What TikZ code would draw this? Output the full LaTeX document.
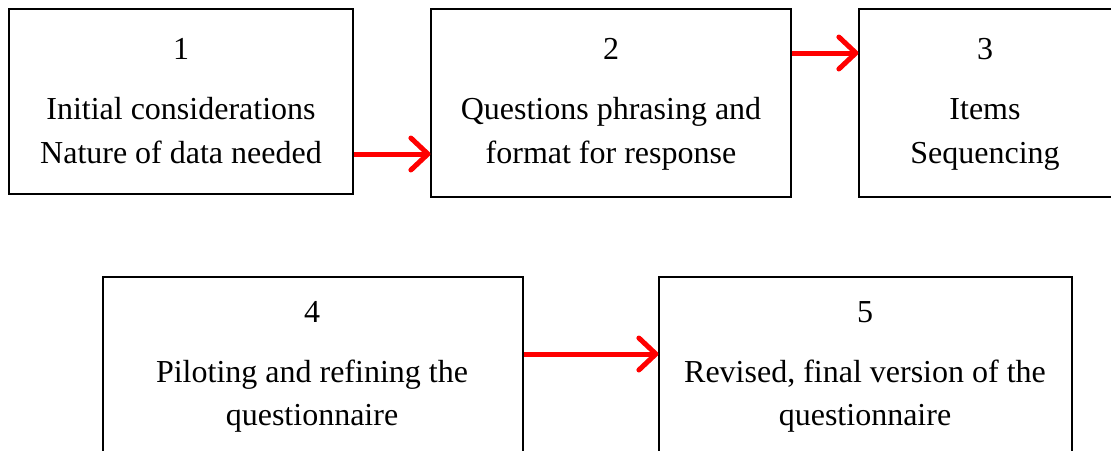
\documentclass[tikz,border=0pt]{standalone}
\usepackage{fontspec}
\setmainfont{Liberation Serif}
\usetikzlibrary{arrows.meta}
\tikzset{
  stagebox/.style={draw=black, line width=1.2pt, inner sep=0pt, fill=none},
  stagetext/.style={anchor=north, inner sep=0pt, align=center,
    font=\fontsize{32}{43}\selectfont},
  flow/.style={draw=red, line width=5pt,
    -{Straight Barb[length=17pt, width=32pt, round]}}
}
\begin{document}
\begin{tikzpicture}[x=1pt, y=-1pt]
  \clip (0,0) rectangle (1111,450);
  \fill[white] (0,0) rectangle (1111,450);
  % stage boxes
  \node[stagebox, minimum width=344pt, minimum height=185pt] (b1) at (181,101.5) {};
  \node[stagebox, minimum width=360pt, minimum height=188pt] (b2) at (611,103) {};
  \node[stagebox, minimum width=254pt, minimum height=188pt] (b3) at (986,103) {};
  \node[stagebox, minimum width=420pt, minimum height=193pt] (b4) at (313,373.5) {};
  \node[stagebox, minimum width=413pt, minimum height=193pt] (b5) at (865.5,373.5) {};
  % stage texts
  \node[stagetext] (t1) at (181,38.4) {1\\[17pt]Initial considerations\\[1pt]Nature of data needed};
  \node[stagetext] (t2) at (611,38.4) {2\\[17pt]Questions phrasing and\\[1pt]format for response};
  \node[stagetext] (t3) at (985,38.4) {3\\[17pt]Items\\[1pt]Sequencing};
  \node[stagetext] (t4) at (312,301) {4\\[17pt]Piloting and refining the\\questionnaire};
  \node[stagetext] (t5) at (865,301) {5\\[17pt]Revised, final version of the\\questionnaire};
  % arrows between stages
  \coordinate (a1) at (0,154);
  \coordinate (a2) at (0,53);
  \coordinate (a3) at (0,354);
  \draw[flow] (b1.east |- a1) -- (b2.west |- a1);
  \draw[flow] (b2.east |- a2) -- (b3.west |- a2);
  \draw[flow] (b4.east |- a3) -- (b5.west |- a3);
\end{tikzpicture}
\end{document}
